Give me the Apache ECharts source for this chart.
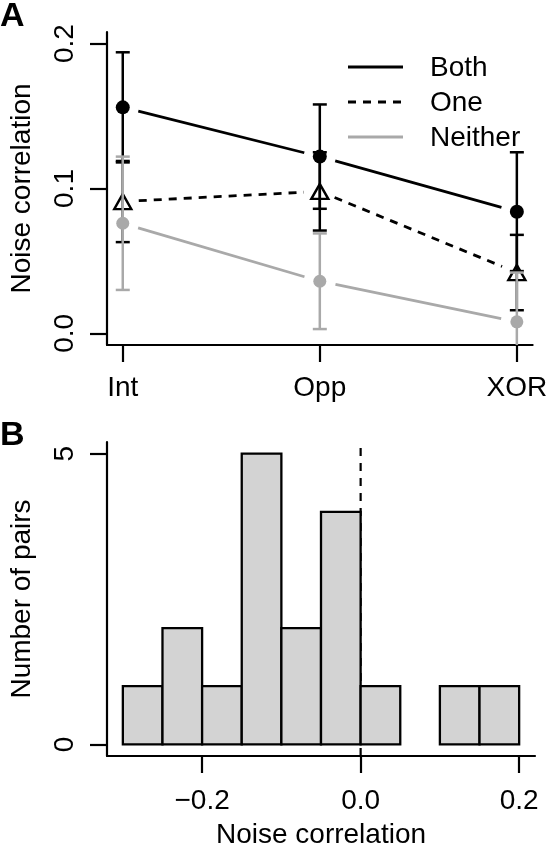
<!DOCTYPE html>
<html><head><meta charset="utf-8">
<script src="https://cdn.jsdelivr.net/npm/echarts@6/dist/echarts.min.js"></script>
<style>html,body{margin:0;padding:0;background:#fff}#c{width:550px;height:853px}</style>
</head><body><div id="c"></div>
<script>
// ---- data ----
const categories = ['Int', 'Opp', 'XOR'];
const categoryPos = [1, 2, 3];
const bothMean = [0.156, 0.122, 0.084];
const bothErr = [0.038, 0.036, 0.041];
const oneMean = [0.091, 0.098, 0.042];
const oneErr = [0.028, 0.027, 0.026];
const neitherMean = [0.076, 0.036, 0.008];
const neitherErr = [0.046, 0.033, 0.034];
const panelAYTicks = [0, 0.1, 0.2];
const histBreaks = [-0.3, -0.25, -0.2, -0.15, -0.1, -0.05, 0, 0.05, 0.1, 0.15, 0.2];
const histCounts = [1, 2, 1, 5, 2, 4, 1, 0, 1, 1];
const panelBXTicks = [-0.2, 0, 0.2];
const panelBYTicks = [0, 5];
const legendNames = ['Both', 'One', 'Neither'];

// ---- styles ----
const FONT = "'Liberation Sans', Arial, Helvetica, sans-serif";
const GRAY = '#a9a9a9';
const DASH = [8, 7];

function errData(mean, err) { return mean.map((m, i) => [categoryPos[i], m - err[i], m + err[i]]); }
function segData(mean) {
  const out = [];
  for (let i = 0; i < mean.length - 1; i++) out.push([categoryPos[i], mean[i], categoryPos[i + 1], mean[i + 1]]);
  return out;
}
function errRender(color) {
  return function (params, api) {
    const x = api.value(0), lo = api.value(1), hi = api.value(2);
    const a = api.coord([x, lo]), b = api.coord([x, hi]);
    const cw = 7;
    const st = { stroke: color, lineWidth: 2.5, fill: null };
    return { type: 'group', children: [
      { type: 'line', shape: { x1: a[0], y1: a[1], x2: b[0], y2: b[1] }, style: st },
      { type: 'line', shape: { x1: a[0] - cw, y1: a[1], x2: a[0] + cw, y2: a[1] }, style: st },
      { type: 'line', shape: { x1: b[0] - cw, y1: b[1], x2: b[0] + cw, y2: b[1] }, style: st }
    ] };
  };
}
function segRender(color, dash) {
  return function (params, api) {
    const a = api.coord([api.value(0), api.value(1)]);
    const b = api.coord([api.value(2), api.value(3)]);
    const dx = b[0] - a[0], dy = b[1] - a[1], L = Math.hypot(dx, dy), g = 16;
    const ux = dx / L, uy = dy / L;
    return { type: 'line', shape: { x1: a[0] + ux * g, y1: a[1] + uy * g, x2: b[0] - ux * g, y2: b[1] - uy * g },
      style: { stroke: color, lineWidth: 2.8, lineDash: dash || null, fill: null } };
  };
}
function histRender(params, api) {
  const x0 = api.value(0), x1 = api.value(1), c = api.value(2);
  if (!c) return null;
  const p0 = api.coord([x0, c]), p1 = api.coord([x1, 0]);
  return { type: 'rect', shape: { x: p0[0], y: p0[1], width: p1[0] - p0[0], height: p1[1] - p0[1] },
    style: { fill: '#d3d3d3', stroke: '#000', lineWidth: 2.3 } };
}

const axisLineStyle = { show: true, onZero: false, lineStyle: { color: '#000', width: 2.2 } };
const tickStyle = { color: '#000', width: 2.2 };
const labelBase = { color: '#000', fontSize: 28, fontFamily: FONT };

const option = {
  animation: false,
  backgroundColor: '#fff',
  grid: [
    { left: 102, top: 32, width: 433, height: 313 },
    { left: 102, top: 442, width: 433, height: 314 }
  ],
  xAxis: [
    { type: 'value', gridIndex: 0, min: 0.92, max: 3.08,
      axisLine: axisLineStyle,
      axisTick: { show: true, customValues: categoryPos, length: 17, lineStyle: tickStyle },
      axisLabel: Object.assign({}, labelBase, { customValues: categoryPos, margin: 29,
        formatter: v => categories[categoryPos.indexOf(Math.round(v))] }),
      splitLine: { show: false } },
    { type: 'value', gridIndex: 1, min: -0.32, max: 0.22,
      axisLine: axisLineStyle,
      axisTick: { show: true, customValues: panelBXTicks, length: 17, lineStyle: tickStyle },
      axisLabel: Object.assign({}, labelBase, { customValues: panelBXTicks, margin: 31,
        formatter: v => (v < -1e-9 ? '\u2212' : '') + Math.abs(v).toFixed(1) }),
      splitLine: { show: false },
      name: 'Noise correlation', nameLocation: 'middle', nameGap: 65,
      nameTextStyle: { color: '#000', fontSize: 28, fontFamily: FONT } }
  ],
  yAxis: [
    { type: 'value', gridIndex: 0, min: -0.008, max: 0.208,
      axisLine: axisLineStyle,
      axisTick: { show: true, customValues: panelAYTicks, length: 17, lineStyle: tickStyle },
      axisLabel: Object.assign({}, labelBase, { customValues: panelAYTicks, margin: 28, rotate: 90,
        formatter: v => v.toFixed(1) }),
      splitLine: { show: false },
      name: 'Noise correlation', nameLocation: 'middle', nameGap: 71, nameRotate: 90,
      nameTextStyle: { color: '#000', fontSize: 28, fontFamily: FONT } },
    { type: 'value', gridIndex: 1, min: -0.2, max: 5.2,
      axisLine: axisLineStyle,
      axisTick: { show: true, customValues: panelBYTicks, length: 17, lineStyle: tickStyle },
      axisLabel: Object.assign({}, labelBase, { customValues: panelBYTicks, margin: 28, rotate: 90,
        formatter: v => String(Math.round(v)) }),
      splitLine: { show: false },
      name: 'Number of pairs', nameLocation: 'middle', nameGap: 71, nameRotate: 90,
      nameTextStyle: { color: '#000', fontSize: 28, fontFamily: FONT } }
  ],
  series: [
    // Both
    { name: 'Both', type: 'custom', xAxisIndex: 0, yAxisIndex: 0, clip: true, z: 2,
      renderItem: errRender('#000'), encode: { x: 0, y: [1, 2] }, data: errData(bothMean, bothErr) },
    { type: 'custom', xAxisIndex: 0, yAxisIndex: 0, clip: true, z: 2,
      renderItem: segRender('#000'), encode: { x: [0, 2], y: [1, 3] }, data: segData(bothMean) },
    { type: 'scatter', xAxisIndex: 0, yAxisIndex: 0, z: 3, symbol: 'circle', symbolSize: 14,
      itemStyle: { color: '#000', opacity: 1 }, data: bothMean.map((m, i) => [categoryPos[i], m]) },
    // One
    { name: 'One', type: 'custom', xAxisIndex: 0, yAxisIndex: 0, clip: true, z: 4,
      renderItem: errRender('#000'), encode: { x: 0, y: [1, 2] }, data: errData(oneMean, oneErr) },
    { type: 'custom', xAxisIndex: 0, yAxisIndex: 0, clip: true, z: 4,
      renderItem: segRender('#000', DASH), encode: { x: [0, 2], y: [1, 3] }, data: segData(oneMean) },
    { type: 'scatter', xAxisIndex: 0, yAxisIndex: 0, z: 5, symbol: 'triangle', symbolSize: [17, 15],
      itemStyle: { color: 'rgba(0,0,0,0)', borderColor: '#000', borderWidth: 2.4, opacity: 1 },
      data: oneMean.map((m, i) => [categoryPos[i], m]) },
    // Neither
    { name: 'Neither', type: 'custom', xAxisIndex: 0, yAxisIndex: 0, clip: true, z: 6,
      renderItem: errRender(GRAY), encode: { x: 0, y: [1, 2] }, data: errData(neitherMean, neitherErr) },
    { type: 'custom', xAxisIndex: 0, yAxisIndex: 0, clip: true, z: 6,
      renderItem: segRender(GRAY), encode: { x: [0, 2], y: [1, 3] }, data: segData(neitherMean) },
    { type: 'scatter', xAxisIndex: 0, yAxisIndex: 0, z: 7, symbol: 'circle', symbolSize: 13,
      itemStyle: { color: GRAY, opacity: 1 }, data: neitherMean.map((m, i) => [categoryPos[i], m]) },
    // Panel B: zero reference line and histogram
    { type: 'line', xAxisIndex: 1, yAxisIndex: 1, z: 1, symbol: 'none', silent: true,
      lineStyle: { color: '#000', width: 2.2, type: DASH }, data: [[0, -0.2], [0, 5.2]] },
    { type: 'custom', xAxisIndex: 1, yAxisIndex: 1, z: 3, clip: false,
      renderItem: histRender, encode: { x: [0, 1], y: 2 },
      data: histCounts.map((c, i) => [histBreaks[i], histBreaks[i + 1], c]) }
  ],
  graphic: [
    { type: 'text', left: 0, top: 0, style: { text: 'A', fontSize: 34, fontWeight: 'bold', fontFamily: FONT, fill: '#000' } },
    { type: 'text', left: 0, top: 419, style: { text: 'B', fontSize: 34, fontWeight: 'bold', fontFamily: FONT, fill: '#000' } },
    { type: 'line', shape: { x1: 348, y1: 67, x2: 403, y2: 67 }, style: { stroke: '#000', lineWidth: 2.8 } },
    { type: 'line', shape: { x1: 348, y1: 102, x2: 403, y2: 102 }, style: { stroke: '#000', lineWidth: 2.8, lineDash: DASH } },
    { type: 'line', shape: { x1: 348, y1: 137, x2: 403, y2: 137 }, style: { stroke: GRAY, lineWidth: 2.8 } },
    { type: 'text', x: 430, y: 68, style: { text: legendNames[0], fontSize: 28, fontFamily: FONT, fill: '#000', verticalAlign: 'middle' } },
    { type: 'text', x: 430, y: 103, style: { text: legendNames[1], fontSize: 28, fontFamily: FONT, fill: '#000', verticalAlign: 'middle' } },
    { type: 'text', x: 430, y: 138, style: { text: legendNames[2], fontSize: 28, fontFamily: FONT, fill: '#000', verticalAlign: 'middle' } }
  ]
};
const chart = echarts.init(document.getElementById('c'), null, { renderer: 'canvas' });
chart.setOption(option);
</script>
</body></html>
